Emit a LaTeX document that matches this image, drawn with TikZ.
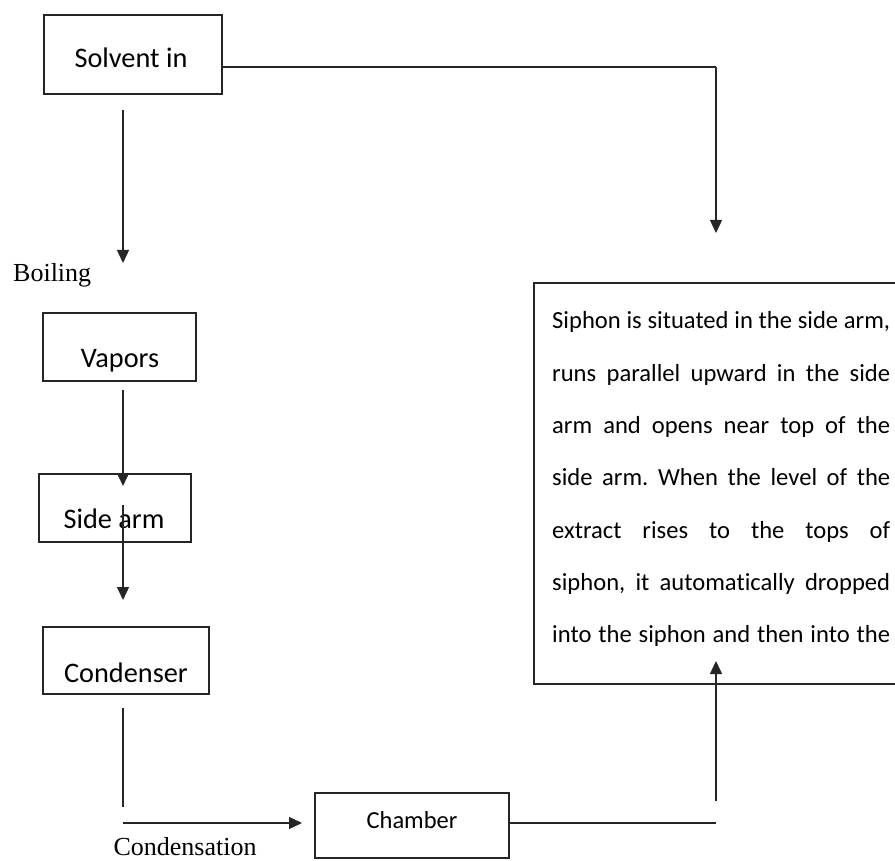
\documentclass[tikz,border=0pt]{standalone}
\usepackage{fontspec}
\setmainfont{Carlito}[Ligatures=NoCommon]
\newfontfamily\serifrm{Liberation Serif}
\usetikzlibrary{arrows.meta}
\frenchspacing
\tikzset{
  boxnode/.style={draw=black!85, line width=1.4pt, inner sep=0pt},
  conn/.style={draw=black!85, line width=1.4pt},
  arr/.style={conn, -{Triangle[width=12pt,length=13pt]}},
  boxtxt/.style={anchor=base, inner sep=0pt, font=\fontsize{28.3}{34}\selectfont},
  chtxt/.style={anchor=base, inner sep=0pt, font=\fontsize{24.5}{30}\selectfont},
  sertxt/.style={inner sep=0pt, font=\serifrm\fontsize{26}{31}\selectfont},
  sipline/.style={anchor=base west, inner sep=0pt, font=\fontsize{24.6}{30}\selectfont}
}
\newcommand{\sipl}[1]{\makebox[338pt][s]{#1}}
\begin{document}
\begin{tikzpicture}[x=1pt,y=1pt]
\useasboundingbox (0,0) rectangle (895,-861);
\clip (0,0) rectangle (895,-861);
% boxes
\node[boxnode, minimum width=178pt, minimum height=79pt] (solvent) at (133,-54.5) {};
\node[boxtxt] (solventtxt) at (131,-68) {Solvent in};
\node[boxnode, minimum width=153pt, minimum height=68pt] (vapors) at (119.5,-347) {};
\node[boxtxt] (vaporstxt) at (120,-367) {Vapors};
\node[boxnode, minimum width=152pt, minimum height=68pt] (sidearm) at (115,-508) {};
\node[boxtxt] (sidearmtxt) at (114,-528) {Side arm};
\node[boxnode, minimum width=166pt, minimum height=67pt] (condenser) at (126,-660.5) {};
\node[boxtxt] (condensertxt) at (126,-682) {Condenser};
\node[boxnode, minimum width=194pt, minimum height=65pt] (chamber) at (412,-825.5) {};
\node[chtxt] (chambertxt) at (412,-828) {Chamber};
\node[boxnode, minimum width=371pt, minimum height=401pt] (siphon) at (719.5,-483.5) {};
% siphon text
\node[sipline] (s1) at (552,-329) {\sipl{Siphon is situated in the side arm,}};
\node[sipline] (s2) at (552,-381.3) {\sipl{runs parallel upward in the side}};
\node[sipline] (s3) at (552,-433.6) {\sipl{arm and opens near top of the}};
\node[sipline] (s4) at (552,-485.9) {\sipl{side arm. When the level of the}};
\node[sipline] (s5) at (552,-538.2) {\sipl{extract rises to the tops of}};
\node[sipline] (s6) at (552,-590.5) {\sipl{siphon, it automatically dropped}};
\node[sipline] (s7) at (552,-642.8) {\sipl{into the siphon and then into the}};
% labels
\node[sertxt, anchor=base west] (boiling) at (13,-282) {Boiling};
\node[sertxt, anchor=base] (condensation) at (185,-855) {Condensation};
% coordinates
\coordinate (a1s) at (123,-110);
\coordinate (a1e) at (123,-263);
\coordinate (a2s) at (123,-390);
\coordinate (a2e) at (123,-486);
\coordinate (a3s) at (123,-505);
\coordinate (a3e) at (123,-600);
\coordinate (l4s) at (123,-708);
\coordinate (l4e) at (123,-807);
\coordinate (a5s) at (123,-823);
\coordinate (a5e) at (302,-823);
\coordinate (topturn) at (716,-67);
\coordinate (topend) at (716,-233);
\coordinate (botend) at (716,-823);
\coordinate (a6s) at (716,-801);
\coordinate (a6e) at (716,-661);
% connectors
\draw[conn] (solvent.east |- topturn) -- (topturn);
\draw[arr] (topturn) -- (topend);
\draw[arr] (a1s) -- (a1e);
\draw[arr] (a2s) -- (a2e);
\draw[arr] (a3s) -- (a3e);
\draw[conn] (l4s) -- (l4e);
\draw[arr] (a5s) -- (a5e);
\draw[conn] (chamber.east |- botend) -- (botend);
\draw[arr] (a6s) -- (a6e);
\end{tikzpicture}
\end{document}
